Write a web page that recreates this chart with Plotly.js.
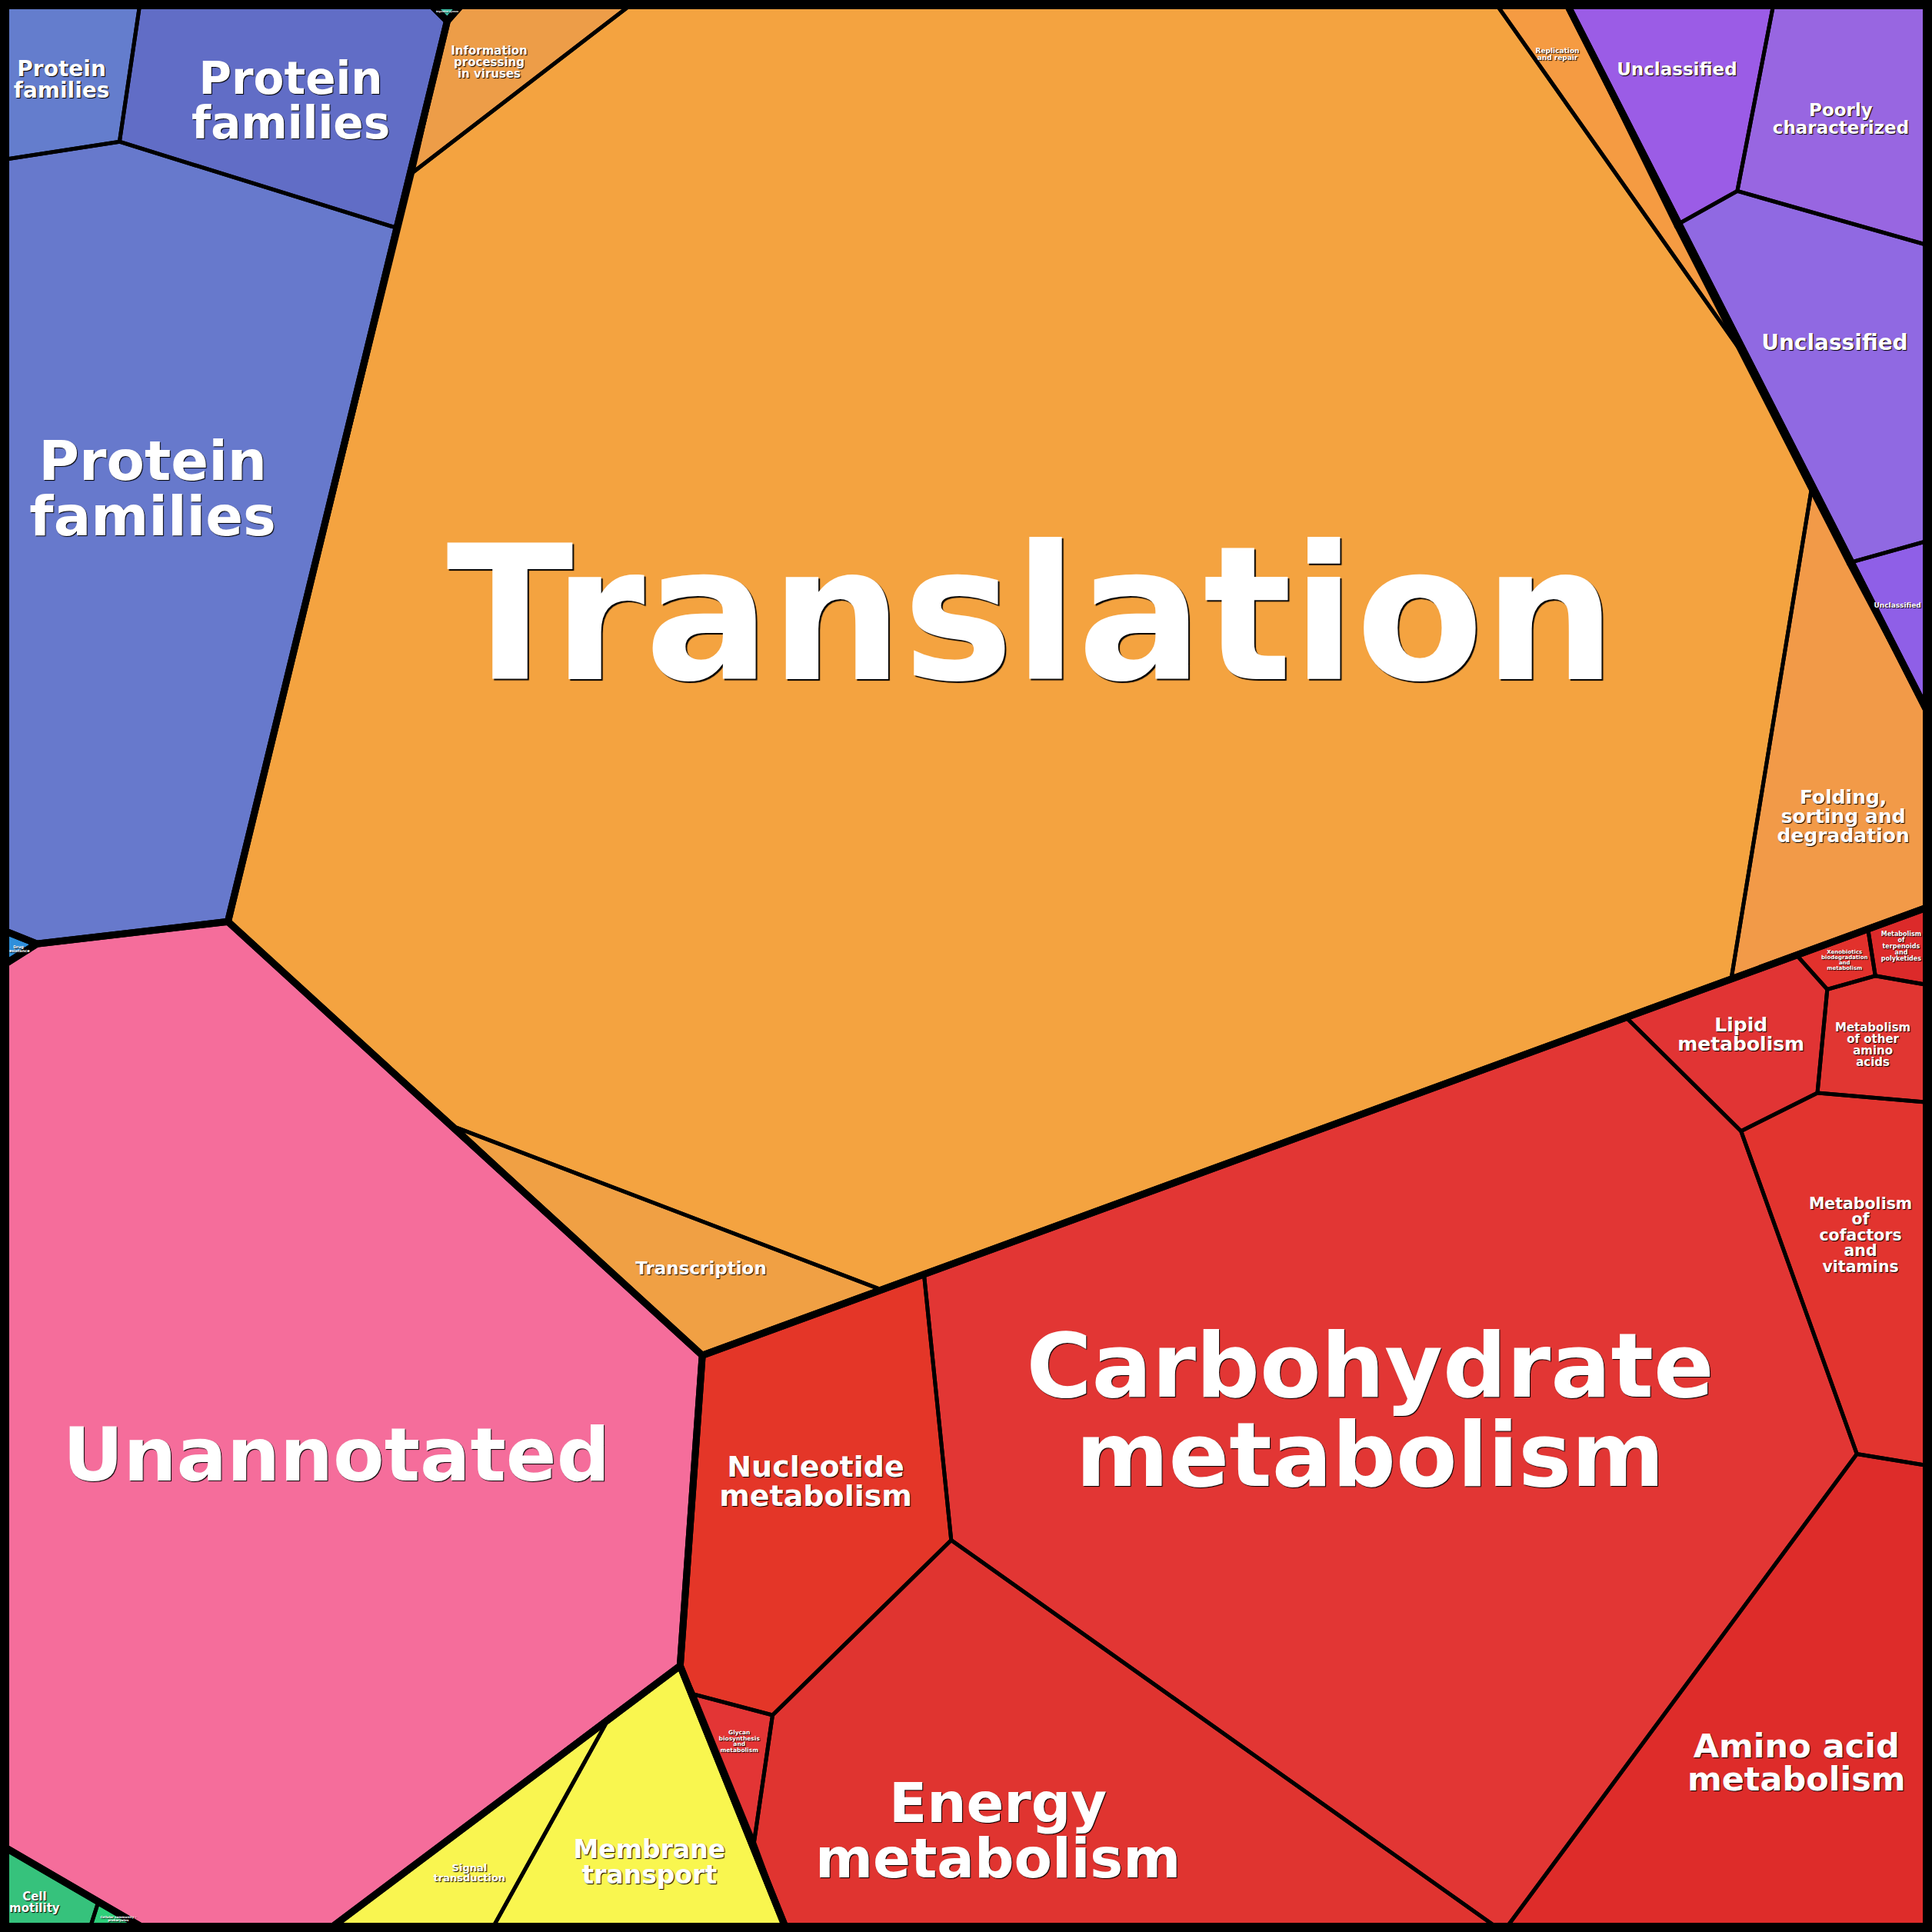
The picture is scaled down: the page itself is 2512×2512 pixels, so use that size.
<!DOCTYPE html>
<html>
<head>
<meta charset="utf-8">
<script src="https://cdn.plot.ly/plotly-3.0.1.min.js"></script>
<style>html,body{margin:0;padding:0;background:#000;}#chart{width:2512px;height:2512px;}</style>
</head>
<body>
<div id="chart"></div>
<script>
// ---------------- DATA (picture units 0..1568) ----------------
const cellNames = [
  "Protein families", "Protein families", "Protein families",
  "Digestive system", "Drug resistance",
  "Information processing in viruses", "Translation", "Replication and repair",
  "Folding, sorting and degradation", "Transcription",
  "Unclassified", "Poorly characterized", "Unclassified", "Unclassified",
  "Nucleotide metabolism", "Glycan biosynthesis and metabolism", "Energy metabolism",
  "Carbohydrate metabolism", "Amino acid metabolism", "Metabolism of cofactors and vitamins",
  "Lipid metabolism", "Metabolism of other amino acids", "Xenobiotics biodegradation and metabolism",
  "Metabolism of terpenoids and polyketides",
  "Unannotated", "Cell motility", "Cellular community - prokaryotes",
  "Signal transduction", "Membrane transport"
];
const cellGroups = [
  "Brite", "Brite", "Brite", "Organismal", "Disease",
  "Genetic", "Genetic", "Genetic", "Genetic", "Genetic",
  "Unclassified", "Unclassified", "Unclassified", "Unclassified",
  "Metabolism", "Metabolism", "Metabolism", "Metabolism", "Metabolism", "Metabolism",
  "Metabolism", "Metabolism", "Metabolism", "Metabolism",
  "Unannotated", "Cellular", "Cellular", "Environmental", "Environmental"
];
const cellX = [
  [0,114,97,0],
  [114,346,363,322,97],
  [0,97,322,185,30,0],
  [346,378,363],
  [0,30,0],
  [363,378,517,335],
  [185,335,517,1212,1413,1470,1405,716,370],
  [1212,1270,1413],
  [1470,1568,1568,1405],
  [370,716,570],
  [1270,1440,1410,1360],
  [1440,1568,1568,1410],
  [1360,1410,1568,1568,1500],
  [1500,1568,1568],
  [570,750,772,627,563,552],
  [563,627,612],
  [627,772,1220,639,612],
  [750,1320,1413,1507,1220,772],
  [1507,1568,1568,1220],
  [1413,1475,1568,1568,1507],
  [1320,1458,1483,1475,1413],
  [1483,1522,1568,1568,1475],
  [1458,1516,1522,1483],
  [1516,1568,1568,1522],
  [0,30,185,570,552,264,122,0],
  [0,80,72,0],
  [80,122,72],
  [495,398,264],
  [552,639,398,495]
];
const cellY = [
  [0,0,115,130],
  [0,0,17,185,115],
  [130,115,185,748,766,754],
  [0,0,17],
  [754,766,785],
  [17,0,0,140],
  [748,140,0,0,285,398,795,1047,915],
  [0,0,285],
  [398,585,735,795],
  [915,1047,1100],
  [0,0,155,183],
  [0,0,200,155],
  [183,155,200,438,457],
  [457,438,585],
  [1100,1035,1250,1392,1375,1352],
  [1375,1392,1495],
  [1392,1250,1568,1568,1495],
  [1035,826,918,1180,1568,1250],
  [1180,1190,1568,1568],
  [918,887,895,1190,1180],
  [826,775,803,887,918],
  [803,792,800,895,887],
  [775,754,792,803],
  [754,735,800,792],
  [785,766,748,1100,1352,1568,1568,1497],
  [1497,1543,1568,1568],
  [1543,1568,1568],
  [1393,1568,1568],
  [1352,1568,1568,1393]
];
// top-level group outlines
const groupNames = ["Brite","Organismal","Disease","Genetic","Unclassified","Metabolism","Unannotated","Cellular","Environmental"];
const groupX = [
  [0,346,363,185,30,0],
  [346,378,363],
  [0,30,0],
  [363,378,1270,1568,1568,570,185],
  [1270,1568,1568],
  [570,1568,1568,639,552],
  [0,30,185,570,552,264,122,0],
  [0,122,0],
  [552,639,264]
];
const groupY = [
  [0,0,17,748,766,754],
  [0,0,17],
  [754,766,785],
  [17,0,0,585,735,1100,748],
  [0,0,585],
  [1100,735,1568,1568,1352],
  [785,766,748,1100,1352,1568,1568,1497],
  [1497,1568,1568],
  [1352,1568,1568]
];
// label lines
const labelLines = [
  ["Protein","families"], ["Protein","families"], ["Protein","families"],
  ["Digestive system"], ["Drug","resistance"],
  ["Information","processing","in viruses"], ["Translation"], ["Replication","and repair"],
  ["Folding,","sorting and","degradation"], ["Transcription"],
  ["Unclassified"], ["Poorly","characterized"], ["Unclassified"], ["Unclassified"],
  ["Nucleotide","metabolism"], ["Glycan","biosynthesis","and","metabolism"], ["Energy","metabolism"],
  ["Carbohydrate","metabolism"], ["Amino acid","metabolism"], ["Metabolism","of","cofactors","and","vitamins"],
  ["Lipid","metabolism"], ["Metabolism","of other","amino","acids"], ["Xenobiotics","biodegradation","and","metabolism"],
  ["Metabolism","of","terpenoids","and","polyketides"],
  ["Unannotated"], ["Cell","motility"], ["Cellular community -","prokaryotes"],
  ["Signal","transduction"], ["Membrane","transport"]
];

// ---------------- STYLE / LAYOUT ----------------
const cellColors = [
  "#647dcd","#616dc6","#6779cc","#40c0a8","#2f8fdb",
  "#ed9d48","#f4a340","#f59b42","#f29a48","#f0a044",
  "#9b5ce6","#9866e1","#9069e2","#8f5fe7",
  "#e43628","#e33535","#e03430","#e23634","#de2c2a","#e2342f",
  "#e13434","#e13632","#e2312c","#dc2a2a",
  "#f56d9b","#36c27c","#2ecf7a","#f9f550","#f9f64f"
];
const labelCX = [50,236,124,363,15,397,837,1264,1496,569,1361,1494,1489,1540,662,600,810,1112,1458,1510,1413,1520,1497,1543,273,28,96,381,527];
const labelCY = [64,81,396,9,770,50,497,44,662,1029,56,96,278,491,1202,1413,1485,1144,1430,1002,839,848,779,768,1180,1544,1557,1520,1511];
const labelSize = [28,58,72,3,5,15,242,9,25,23,23,23,28,9,38,7.5,72,116,43,20.5,25,15,7,8,97,15,4,13,33];

const SIZE = 2512, UNITS = 1568;
const unitPerPx = UNITS / SIZE;
const traces = [];

// fills first
cellNames.forEach((name, i) => {
  traces.push({
    type: "scatter", mode: "lines", x: cellX[i], y: cellY[i],
    fill: "toself", fillcolor: cellColors[i],
    line: {color: cellColors[i], width: 0}, hoverinfo: "skip", showlegend: false
  });
});
// thin cell borders
cellNames.forEach((name, i) => {
  traces.push({
    type: "scatter", mode: "lines",
    x: cellX[i].concat([cellX[i][0]]), y: cellY[i].concat([cellY[i][0]]),
    line: {color: "#000", width: 5}, hoverinfo: "skip", showlegend: false
  });
});
// thick group borders
groupNames.forEach((g, i) => {
  traces.push({
    type: "scatter", mode: "lines",
    x: groupX[i].concat([groupX[i][0]]), y: groupY[i].concat([groupY[i][0]]),
    line: {color: "#000", width: 9}, hoverinfo: "skip", showlegend: false
  });
});
// labels
labelLines.forEach((lines, i) => {
  const fs = labelSize[i];
  const step = fs * 1.0 * unitPerPx;
  const shift = fs * 0.11 * unitPerPx;
  const n = lines.length;
  const ys = lines.map((_, k) => labelCY[i] + shift + (k - (n - 1) / 2) * step);
  const xs = lines.map(() => labelCX[i]);
  const s = fs >= 150 ? 2 : 1;
  traces.push({
    type: "scatter", mode: "text", x: xs, y: ys, text: lines,
    textposition: "middle center", cliponaxis: false,
    textfont: {family: "DejaVu Sans", size: fs, color: "#ffffff", weight: 700,
               shadow: s + "px " + s + "px 1px #000"},
    hoverinfo: "skip", showlegend: false
  });
});

const layout = {
  width: SIZE, height: SIZE,
  margin: {l: 0, r: 0, t: 0, b: 0, pad: 0},
  paper_bgcolor: "#000", plot_bgcolor: "#000",
  xaxis: {range: [0, UNITS], visible: false, fixedrange: true},
  yaxis: {range: [UNITS, 0], visible: false, fixedrange: true},
  showlegend: false,
  shapes: [{type: "rect", xref: "paper", yref: "paper", x0: 0, x1: 1, y0: 0, y1: 1,
            line: {color: "#000", width: 24}, layer: "above"}]
};
Plotly.newPlot("chart", traces, layout, {staticPlot: true, displayModeBar: false});
</script>
</body>
</html>
